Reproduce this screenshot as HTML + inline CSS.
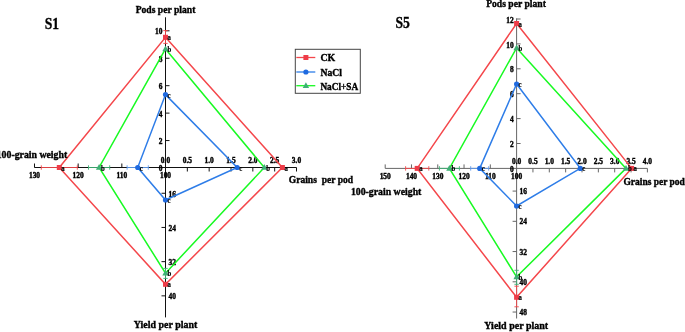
<!DOCTYPE html>
<html><head><meta charset="utf-8"><title>chart</title><style>html,body{margin:0;padding:0;background:#fff}svg{display:block}</style></head><body>
<svg width="685" height="332" viewBox="0 0 685 332">
<rect width="685" height="332" fill="#fff"/>
<g stroke="#111" stroke-width="1.0" fill="none">
<line x1="165.5" y1="17.3" x2="165.5" y2="317.4"/>
<line x1="34.4" y1="167.5" x2="296.5" y2="167.5"/>
<line x1="165.5" y1="140.56" x2="169.5" y2="140.56"/>
<line x1="165.5" y1="113.12" x2="169.5" y2="113.12"/>
<line x1="165.5" y1="85.68" x2="169.5" y2="85.68"/>
<line x1="165.5" y1="58.24" x2="169.5" y2="58.24"/>
<line x1="165.5" y1="30.8" x2="169.5" y2="30.8"/>
<line x1="187.34" y1="167.5" x2="187.34" y2="171.5"/>
<line x1="209.17" y1="167.5" x2="209.17" y2="171.5"/>
<line x1="231.0" y1="167.5" x2="231.0" y2="171.5"/>
<line x1="252.84" y1="167.5" x2="252.84" y2="171.5"/>
<line x1="274.68" y1="167.5" x2="274.68" y2="171.5"/>
<line x1="296.51" y1="167.5" x2="296.51" y2="171.5"/>
<line x1="121.83" y1="167.5" x2="121.83" y2="163.5"/>
<line x1="78.16" y1="167.5" x2="78.16" y2="163.5"/>
<line x1="34.49" y1="167.5" x2="34.49" y2="163.5"/>
<line x1="165.5" y1="193.25" x2="161.5" y2="193.25"/>
<line x1="165.5" y1="227.45" x2="161.5" y2="227.45"/>
<line x1="165.5" y1="261.65" x2="161.5" y2="261.65"/>
<line x1="165.5" y1="295.85" x2="161.5" y2="295.85"/>
</g>
<g font-family="Liberation Serif, serif" font-weight="bold">
<text transform="translate(162.50 144.18) scale(0.93 1)" text-anchor="end" font-size="8" fill="#000" stroke="#000" stroke-width="0.4">2</text>
<text transform="translate(162.50 116.74) scale(0.93 1)" text-anchor="end" font-size="8" fill="#000" stroke="#000" stroke-width="0.4">4</text>
<text transform="translate(162.50 89.30) scale(0.93 1)" text-anchor="end" font-size="8" fill="#000" stroke="#000" stroke-width="0.4">6</text>
<text transform="translate(162.50 61.86) scale(0.93 1)" text-anchor="end" font-size="8" fill="#000" stroke="#000" stroke-width="0.4">8</text>
<text transform="translate(162.50 34.42) scale(0.93 1)" text-anchor="end" font-size="8" fill="#000" stroke="#000" stroke-width="0.4">10</text>
<text transform="translate(187.34 163.00) scale(0.93 1)" text-anchor="middle" font-size="8" fill="#000" stroke="#000" stroke-width="0.4">0.5</text>
<text transform="translate(209.17 163.00) scale(0.93 1)" text-anchor="middle" font-size="8" fill="#000" stroke="#000" stroke-width="0.4">1.0</text>
<text transform="translate(231.00 163.00) scale(0.93 1)" text-anchor="middle" font-size="8" fill="#000" stroke="#000" stroke-width="0.4">1.5</text>
<text transform="translate(252.84 163.00) scale(0.93 1)" text-anchor="middle" font-size="8" fill="#000" stroke="#000" stroke-width="0.4">2.0</text>
<text transform="translate(274.68 163.00) scale(0.93 1)" text-anchor="middle" font-size="8" fill="#000" stroke="#000" stroke-width="0.4">2.5</text>
<text transform="translate(296.51 163.00) scale(0.93 1)" text-anchor="middle" font-size="8" fill="#000" stroke="#000" stroke-width="0.4">3.0</text>
<text transform="translate(121.83 178.30) scale(0.93 1)" text-anchor="middle" font-size="8" fill="#000" stroke="#000" stroke-width="0.4">110</text>
<text transform="translate(78.16 178.30) scale(0.93 1)" text-anchor="middle" font-size="8" fill="#000" stroke="#000" stroke-width="0.4">120</text>
<text transform="translate(34.49 178.30) scale(0.93 1)" text-anchor="middle" font-size="8" fill="#000" stroke="#000" stroke-width="0.4">130</text>
<text transform="translate(168.50 196.87) scale(0.93 1)" text-anchor="start" font-size="8" fill="#000" stroke="#000" stroke-width="0.4">16</text>
<text transform="translate(168.50 231.07) scale(0.93 1)" text-anchor="start" font-size="8" fill="#000" stroke="#000" stroke-width="0.4">24</text>
<text transform="translate(168.50 265.27) scale(0.93 1)" text-anchor="start" font-size="8" fill="#000" stroke="#000" stroke-width="0.4">32</text>
<text transform="translate(168.50 299.47) scale(0.93 1)" text-anchor="start" font-size="8" fill="#000" stroke="#000" stroke-width="0.4">40</text>
<text transform="translate(165.50 163.00) scale(0.93 1)" text-anchor="middle" font-size="8" fill="#000" stroke="#000" stroke-width="0.4">0.0</text>
<text transform="translate(162.50 171.12) scale(0.93 1)" text-anchor="end" font-size="8" fill="#000" stroke="#000" stroke-width="0.4">0</text>
<text transform="translate(165.50 178.30) scale(0.93 1)" text-anchor="middle" font-size="8" fill="#000" stroke="#000" stroke-width="0.4">100</text>
</g>
<g stroke="#f4474b" stroke-width="0.9" fill="none">
<line x1="41.3" y1="167.5" x2="77.3" y2="167.5"/>
<line x1="41.3" y1="165.3" x2="41.3" y2="169.7"/>
<line x1="77.3" y1="165.3" x2="77.3" y2="169.7"/>
<line x1="165.5" y1="30.6" x2="165.5" y2="43.4"/>
<line x1="163.3" y1="30.6" x2="167.7" y2="30.6"/>
<line x1="163.3" y1="43.4" x2="167.7" y2="43.4"/>
</g>
<g stroke="#3fb075" stroke-width="0.9" fill="none">
<line x1="88.5" y1="167.5" x2="109.69999999999999" y2="167.5"/>
<line x1="88.5" y1="165.3" x2="88.5" y2="169.7"/>
<line x1="109.69999999999999" y1="165.3" x2="109.69999999999999" y2="169.7"/>
<line x1="165.5" y1="268.4" x2="165.5" y2="278.4"/>
<line x1="163.3" y1="268.4" x2="167.7" y2="268.4"/>
<line x1="163.3" y1="278.4" x2="167.7" y2="278.4"/>
</g>
<g stroke="#5f9bef" stroke-width="0.9" fill="none">
<line x1="127.1" y1="167.5" x2="148.29999999999998" y2="167.5"/>
<line x1="127.1" y1="165.3" x2="127.1" y2="169.7"/>
<line x1="148.29999999999998" y1="165.3" x2="148.29999999999998" y2="169.7"/>
</g>
<path d="M165.5 37.3 L282.4 167.5 L165.5 284.3 L59.3 167.5 Z" fill="none" stroke="#f4474b" stroke-width="1.5" stroke-linejoin="miter"/>
<path d="M165.5 48.9 L264.3 167.5 L165.5 273.2 L99.1 167.5 Z" fill="none" stroke="#18fa22" stroke-width="1.5" stroke-linejoin="miter"/>
<path d="M165.5 94.6 L237.2 167.5 L165.5 200 L137.7 167.5 Z" fill="none" stroke="#2e7de8" stroke-width="1.5" stroke-linejoin="miter"/>
<rect x="163.00" y="34.80" width="5" height="5" fill="#ee3c48"/>
<rect x="279.90" y="165.00" width="5" height="5" fill="#ee3c48"/>
<rect x="163.00" y="281.80" width="5" height="5" fill="#ee3c48"/>
<rect x="56.80" y="165.00" width="5" height="5" fill="#ee3c48"/>
<path d="M165.50 45.50 L168.70 51.20 L162.30 51.20 Z" fill="#3fb075"/>
<path d="M264.30 164.10 L267.50 169.80 L261.10 169.80 Z" fill="#3fb075"/>
<path d="M165.50 269.80 L168.70 275.50 L162.30 275.50 Z" fill="#3fb075"/>
<path d="M99.10 164.10 L102.30 169.80 L95.90 169.80 Z" fill="#3fb075"/>
<circle cx="165.50" cy="94.60" r="2.6" fill="#1f6ae0"/>
<circle cx="237.20" cy="167.50" r="2.6" fill="#1f6ae0"/>
<circle cx="165.50" cy="200.00" r="2.6" fill="#1f6ae0"/>
<circle cx="137.70" cy="167.50" r="2.6" fill="#1f6ae0"/>
<g font-family="Liberation Serif, serif" font-weight="bold">
<text transform="translate(167.50 40.30) scale(0.9 1)" text-anchor="start" font-size="7.5" fill="#000" stroke="#000" stroke-width="0.2">a</text>
<text transform="translate(284.40 170.50) scale(0.9 1)" text-anchor="start" font-size="7.5" fill="#000" stroke="#000" stroke-width="0.2">a</text>
<text transform="translate(167.50 287.30) scale(0.9 1)" text-anchor="start" font-size="7.5" fill="#000" stroke="#000" stroke-width="0.2">a</text>
<text transform="translate(61.30 170.50) scale(0.9 1)" text-anchor="start" font-size="7.5" fill="#000" stroke="#000" stroke-width="0.2">a</text>
<text transform="translate(167.50 51.90) scale(0.9 1)" text-anchor="start" font-size="7.5" fill="#000" stroke="#000" stroke-width="0.2">b</text>
<text transform="translate(266.30 170.50) scale(0.9 1)" text-anchor="start" font-size="7.5" fill="#000" stroke="#000" stroke-width="0.2">b</text>
<text transform="translate(167.50 276.20) scale(0.9 1)" text-anchor="start" font-size="7.5" fill="#000" stroke="#000" stroke-width="0.2">b</text>
<text transform="translate(101.10 170.50) scale(0.9 1)" text-anchor="start" font-size="7.5" fill="#000" stroke="#000" stroke-width="0.2">b</text>
<text transform="translate(167.50 97.60) scale(0.9 1)" text-anchor="start" font-size="7.5" fill="#000" stroke="#000" stroke-width="0.2">c</text>
<text transform="translate(239.20 170.50) scale(0.9 1)" text-anchor="start" font-size="7.5" fill="#000" stroke="#000" stroke-width="0.2">c</text>
<text transform="translate(167.50 203.00) scale(0.9 1)" text-anchor="start" font-size="7.5" fill="#000" stroke="#000" stroke-width="0.2">c</text>
<text transform="translate(139.70 170.50) scale(0.9 1)" text-anchor="start" font-size="7.5" fill="#000" stroke="#000" stroke-width="0.2">c</text>
</g>
<g stroke="#666" stroke-width="1.0" fill="none">
<line x1="516.6" y1="18.3" x2="516.6" y2="318.5"/>
<line x1="385.2" y1="168.4" x2="647.4" y2="168.4"/>
<line x1="516.6" y1="143.5" x2="520.6" y2="143.5"/>
<line x1="516.6" y1="118.6" x2="520.6" y2="118.6"/>
<line x1="516.6" y1="93.7" x2="520.6" y2="93.7"/>
<line x1="516.6" y1="68.8" x2="520.6" y2="68.8"/>
<line x1="516.6" y1="43.9" x2="520.6" y2="43.9"/>
<line x1="516.6" y1="19.0" x2="520.6" y2="19.0"/>
<line x1="532.95" y1="168.4" x2="532.95" y2="172.4"/>
<line x1="549.3" y1="168.4" x2="549.3" y2="172.4"/>
<line x1="565.65" y1="168.4" x2="565.65" y2="172.4"/>
<line x1="582.0" y1="168.4" x2="582.0" y2="172.4"/>
<line x1="598.35" y1="168.4" x2="598.35" y2="172.4"/>
<line x1="614.7" y1="168.4" x2="614.7" y2="172.4"/>
<line x1="631.05" y1="168.4" x2="631.05" y2="172.4"/>
<line x1="647.4" y1="168.4" x2="647.4" y2="172.4"/>
<line x1="490.32" y1="168.4" x2="490.32" y2="164.4"/>
<line x1="464.04" y1="168.4" x2="464.04" y2="164.4"/>
<line x1="437.76" y1="168.4" x2="437.76" y2="164.4"/>
<line x1="411.48" y1="168.4" x2="411.48" y2="164.4"/>
<line x1="385.2" y1="168.4" x2="385.2" y2="164.4"/>
<line x1="516.6" y1="191.08" x2="512.6" y2="191.08"/>
<line x1="516.6" y1="221.32" x2="512.6" y2="221.32"/>
<line x1="516.6" y1="251.56" x2="512.6" y2="251.56"/>
<line x1="516.6" y1="281.8" x2="512.6" y2="281.8"/>
<line x1="516.6" y1="312.04" x2="512.6" y2="312.04"/>
</g>
<g font-family="Liberation Serif, serif" font-weight="bold">
<text transform="translate(513.60 147.12) scale(0.93 1)" text-anchor="end" font-size="8" fill="#000" stroke="#000" stroke-width="0.4">2</text>
<text transform="translate(513.60 122.22) scale(0.93 1)" text-anchor="end" font-size="8" fill="#000" stroke="#000" stroke-width="0.4">4</text>
<text transform="translate(513.60 97.32) scale(0.93 1)" text-anchor="end" font-size="8" fill="#000" stroke="#000" stroke-width="0.4">6</text>
<text transform="translate(513.60 72.42) scale(0.93 1)" text-anchor="end" font-size="8" fill="#000" stroke="#000" stroke-width="0.4">8</text>
<text transform="translate(513.60 47.52) scale(0.93 1)" text-anchor="end" font-size="8" fill="#000" stroke="#000" stroke-width="0.4">10</text>
<text transform="translate(513.60 22.62) scale(0.93 1)" text-anchor="end" font-size="8" fill="#000" stroke="#000" stroke-width="0.4">12</text>
<text transform="translate(532.95 163.90) scale(0.93 1)" text-anchor="middle" font-size="8" fill="#000" stroke="#000" stroke-width="0.4">0.5</text>
<text transform="translate(549.30 163.90) scale(0.93 1)" text-anchor="middle" font-size="8" fill="#000" stroke="#000" stroke-width="0.4">1.0</text>
<text transform="translate(565.65 163.90) scale(0.93 1)" text-anchor="middle" font-size="8" fill="#000" stroke="#000" stroke-width="0.4">1.5</text>
<text transform="translate(582.00 163.90) scale(0.93 1)" text-anchor="middle" font-size="8" fill="#000" stroke="#000" stroke-width="0.4">2.0</text>
<text transform="translate(598.35 163.90) scale(0.93 1)" text-anchor="middle" font-size="8" fill="#000" stroke="#000" stroke-width="0.4">2.5</text>
<text transform="translate(614.70 163.90) scale(0.93 1)" text-anchor="middle" font-size="8" fill="#000" stroke="#000" stroke-width="0.4">3.0</text>
<text transform="translate(631.05 163.90) scale(0.93 1)" text-anchor="middle" font-size="8" fill="#000" stroke="#000" stroke-width="0.4">3.5</text>
<text transform="translate(647.40 163.90) scale(0.93 1)" text-anchor="middle" font-size="8" fill="#000" stroke="#000" stroke-width="0.4">4.0</text>
<text transform="translate(490.32 179.20) scale(0.93 1)" text-anchor="middle" font-size="8" fill="#000" stroke="#000" stroke-width="0.4">110</text>
<text transform="translate(464.04 179.20) scale(0.93 1)" text-anchor="middle" font-size="8" fill="#000" stroke="#000" stroke-width="0.4">120</text>
<text transform="translate(437.76 179.20) scale(0.93 1)" text-anchor="middle" font-size="8" fill="#000" stroke="#000" stroke-width="0.4">130</text>
<text transform="translate(411.48 179.20) scale(0.93 1)" text-anchor="middle" font-size="8" fill="#000" stroke="#000" stroke-width="0.4">140</text>
<text transform="translate(385.20 179.20) scale(0.93 1)" text-anchor="middle" font-size="8" fill="#000" stroke="#000" stroke-width="0.4">150</text>
<text transform="translate(519.60 194.10) scale(0.93 1)" text-anchor="start" font-size="8" fill="#000" stroke="#000" stroke-width="0.4">16</text>
<text transform="translate(519.60 224.34) scale(0.93 1)" text-anchor="start" font-size="8" fill="#000" stroke="#000" stroke-width="0.4">24</text>
<text transform="translate(519.60 254.58) scale(0.93 1)" text-anchor="start" font-size="8" fill="#000" stroke="#000" stroke-width="0.4">32</text>
<text transform="translate(519.60 284.82) scale(0.93 1)" text-anchor="start" font-size="8" fill="#000" stroke="#000" stroke-width="0.4">40</text>
<text transform="translate(519.60 315.06) scale(0.93 1)" text-anchor="start" font-size="8" fill="#000" stroke="#000" stroke-width="0.4">48</text>
<text transform="translate(516.60 163.90) scale(0.93 1)" text-anchor="middle" font-size="8" fill="#000" stroke="#000" stroke-width="0.4">0.0</text>
<text transform="translate(513.60 172.02) scale(0.93 1)" text-anchor="end" font-size="8" fill="#000" stroke="#000" stroke-width="0.4">0</text>
<text transform="translate(516.60 179.20) scale(0.93 1)" text-anchor="middle" font-size="8" fill="#000" stroke="#000" stroke-width="0.4">100</text>
</g>
<g stroke="#f4474b" stroke-width="0.9" fill="none">
<line x1="405.59999999999997" y1="168.4" x2="428.8" y2="168.4"/>
<line x1="405.59999999999997" y1="166.20000000000002" x2="405.59999999999997" y2="170.6"/>
<line x1="428.8" y1="166.20000000000002" x2="428.8" y2="170.6"/>
<line x1="516.6" y1="286.2" x2="516.6" y2="306.8"/>
<line x1="514.4" y1="286.2" x2="518.8000000000001" y2="286.2"/>
<line x1="514.4" y1="306.8" x2="518.8000000000001" y2="306.8"/>
</g>
<g stroke="#3fb075" stroke-width="0.9" fill="none">
<line x1="439.4" y1="168.4" x2="459.4" y2="168.4"/>
<line x1="439.4" y1="166.20000000000002" x2="439.4" y2="170.6"/>
<line x1="459.4" y1="166.20000000000002" x2="459.4" y2="170.6"/>
<line x1="516.6" y1="270.3" x2="516.6" y2="284.3"/>
<line x1="514.4" y1="270.3" x2="518.8000000000001" y2="270.3"/>
<line x1="514.4" y1="284.3" x2="518.8000000000001" y2="284.3"/>
</g>
<g stroke="#5f9bef" stroke-width="0.9" fill="none">
<line x1="470.7" y1="168.4" x2="488.7" y2="168.4"/>
<line x1="470.7" y1="166.20000000000002" x2="470.7" y2="170.6"/>
<line x1="488.7" y1="166.20000000000002" x2="488.7" y2="170.6"/>
</g>
<path d="M516.6 23.5 L631.6 168.4 L516.6 297.3 L417.2 168.4 Z" fill="none" stroke="#f4474b" stroke-width="1.5" stroke-linejoin="miter"/>
<path d="M516.6 48 L626 168.4 L516.6 276.9 L449.4 168.4 Z" fill="none" stroke="#18fa22" stroke-width="1.5" stroke-linejoin="miter"/>
<path d="M516.6 84 L580.3 168.4 L516.6 206 L479.7 168.4 Z" fill="none" stroke="#2e7de8" stroke-width="1.5" stroke-linejoin="miter"/>
<rect x="514.10" y="21.00" width="5" height="5" fill="#ee3c48"/>
<rect x="629.10" y="165.90" width="5" height="5" fill="#ee3c48"/>
<rect x="514.10" y="294.80" width="5" height="5" fill="#ee3c48"/>
<rect x="414.70" y="165.90" width="5" height="5" fill="#ee3c48"/>
<path d="M516.60 44.60 L519.80 50.30 L513.40 50.30 Z" fill="#3fb075"/>
<path d="M626.00 165.00 L629.20 170.70 L622.80 170.70 Z" fill="#3fb075"/>
<path d="M516.60 273.50 L519.80 279.20 L513.40 279.20 Z" fill="#3fb075"/>
<path d="M449.40 165.00 L452.60 170.70 L446.20 170.70 Z" fill="#3fb075"/>
<circle cx="516.60" cy="84.00" r="2.6" fill="#1f6ae0"/>
<circle cx="580.30" cy="168.40" r="2.6" fill="#1f6ae0"/>
<circle cx="516.60" cy="206.00" r="2.6" fill="#1f6ae0"/>
<circle cx="479.70" cy="168.40" r="2.6" fill="#1f6ae0"/>
<g font-family="Liberation Serif, serif" font-weight="bold">
<text transform="translate(518.60 26.50) scale(0.9 1)" text-anchor="start" font-size="7.5" fill="#000" stroke="#000" stroke-width="0.2">a</text>
<text transform="translate(633.60 171.40) scale(0.9 1)" text-anchor="start" font-size="7.5" fill="#000" stroke="#000" stroke-width="0.2">a</text>
<text transform="translate(518.60 300.30) scale(0.9 1)" text-anchor="start" font-size="7.5" fill="#000" stroke="#000" stroke-width="0.2">a</text>
<text transform="translate(419.20 171.40) scale(0.9 1)" text-anchor="start" font-size="7.5" fill="#000" stroke="#000" stroke-width="0.2">a</text>
<text transform="translate(518.60 51.00) scale(0.9 1)" text-anchor="start" font-size="7.5" fill="#000" stroke="#000" stroke-width="0.2">b</text>
<text transform="translate(628.00 171.40) scale(0.9 1)" text-anchor="start" font-size="7.5" fill="#000" stroke="#000" stroke-width="0.2">b</text>
<text transform="translate(518.60 279.90) scale(0.9 1)" text-anchor="start" font-size="7.5" fill="#000" stroke="#000" stroke-width="0.2">b</text>
<text transform="translate(451.40 171.40) scale(0.9 1)" text-anchor="start" font-size="7.5" fill="#000" stroke="#000" stroke-width="0.2">b</text>
<text transform="translate(518.60 87.00) scale(0.9 1)" text-anchor="start" font-size="7.5" fill="#000" stroke="#000" stroke-width="0.2">c</text>
<text transform="translate(582.30 171.40) scale(0.9 1)" text-anchor="start" font-size="7.5" fill="#000" stroke="#000" stroke-width="0.2">c</text>
<text transform="translate(518.60 209.00) scale(0.9 1)" text-anchor="start" font-size="7.5" fill="#000" stroke="#000" stroke-width="0.2">c</text>
<text transform="translate(481.70 171.40) scale(0.9 1)" text-anchor="start" font-size="7.5" fill="#000" stroke="#000" stroke-width="0.2">c</text>
</g>
<g font-family="Liberation Serif, serif" font-weight="bold">
<text transform="translate(165.50 12.80) scale(0.876 1)" text-anchor="middle" font-size="11" fill="#000" stroke="#000" stroke-width="0.39">Pods per plant</text>
<text transform="translate(516.00 7.30) scale(0.876 1)" text-anchor="middle" font-size="11" fill="#000" stroke="#000" stroke-width="0.39">Pods per plant</text>
<text transform="translate(165.50 327.70) scale(0.904 1)" text-anchor="middle" font-size="11" fill="#000" stroke="#000" stroke-width="0.39">Yield per plant</text>
<text transform="translate(516.20 329.20) scale(0.91 1)" text-anchor="middle" font-size="11" fill="#000" stroke="#000" stroke-width="0.39">Yield per plant</text>
<text transform="translate(-3.30 157.80) scale(0.892 1)" text-anchor="start" font-size="11" fill="#000" stroke="#000" stroke-width="0.39">100-grain weight</text>
<text transform="translate(350.90 194.50) scale(0.892 1)" text-anchor="start" font-size="11" fill="#000" stroke="#000" stroke-width="0.39">100-grain weight</text>
<text transform="translate(288.70 182.60) scale(0.87 1)" text-anchor="start" font-size="11" fill="#000" stroke="#000" stroke-width="0.39" xml:space="preserve">Grains  per pod</text>
<text transform="translate(623.50 184.90) scale(0.862 1)" text-anchor="start" font-size="11" fill="#000" stroke="#000" stroke-width="0.39">Grains per pod</text>
<text transform="translate(44.80 29.20) scale(0.83 1)" text-anchor="start" font-size="16.4" fill="#000" stroke="#000" stroke-width="0.35">S1</text>
<text transform="translate(395.50 28.00) scale(0.83 1)" text-anchor="start" font-size="16.4" fill="#000" stroke="#000" stroke-width="0.35">S5</text>
</g>
<rect x="295.3" y="49.3" width="65" height="44" fill="#fff" stroke="#444" stroke-width="1"/>
<g font-family="Liberation Serif, serif" font-weight="bold">
<line x1="296.3" y1="57.5" x2="315.3" y2="57.5" stroke="#f4474b" stroke-width="1.3"/>
<rect x="303.40" y="55.00" width="5" height="5" fill="#ee3c48"/>
<text transform="translate(320.40 61.40) scale(0.9 1)" text-anchor="start" font-size="11" fill="#000" stroke="#000" stroke-width="0.39">CK</text>
<line x1="296.3" y1="72" x2="315.3" y2="72" stroke="#2e7de8" stroke-width="1.3"/>
<circle cx="305.90" cy="72.00" r="2.6" fill="#1f6ae0"/>
<text transform="translate(320.40 75.60) scale(0.88 1)" text-anchor="start" font-size="11" fill="#000" stroke="#000" stroke-width="0.39">NaCl</text>
<line x1="296.3" y1="85.7" x2="315.3" y2="85.7" stroke="#18fa22" stroke-width="1.3"/>
<path d="M305.90 82.30 L309.10 88.00 L302.70 88.00 Z" fill="#3fb075"/>
<text transform="translate(320.40 89.80) scale(0.845 1)" text-anchor="start" font-size="11" fill="#000" stroke="#000" stroke-width="0.39">NaCl+SA</text>
</g>
</svg>
</body></html>
